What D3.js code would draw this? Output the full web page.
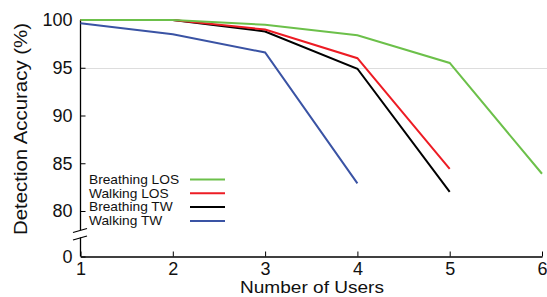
<!DOCTYPE html>
<html>
<head>
<meta charset="utf-8">
<script src="https://cdn.jsdelivr.net/npm/d3@7"></script>
<style>
  body { margin: 0; background: #fff; }
  text { font-family: "Liberation Sans", Arial, sans-serif; }
</style>
</head>
<body>
<div id="chart"></div>
<script>
// data
var users = [1, 2, 3, 4, 5, 6]
var breathingLOS = [100, 100, 99.5, 98.4, 95.5, 83.9]
var walkingLOS = [100, 100, 99.0, 96.0, 84.4]
var breathingTW = [100, 100, 98.8, 94.9, 82.0]
var walkingTW = [99.65, 98.5, 96.6, 82.9]
var yTicks = [0, 80, 85, 90, 95, 100]
var seriesNames = ['Breathing LOS', 'Walking LOS', 'Breathing TW', 'Walking TW']
var seriesValues = [breathingLOS, walkingLOS, breathingTW, walkingTW]
var seriesColors = ['#6cc04a', '#ed1c24', '#000000', '#3a53a4']

var width = 547
var height = 297
var margin = { top: 20, right: 5, bottom: 41, left: 80.5 }

var svg = d3.select('#chart').append('svg')
  .attr('width', width)
  .attr('height', height)

var x = d3.scaleLinear()
  .domain([1, 6])
  .range([margin.left, 542])

// broken axis: 0 sits just below the 80..100 part
var y = d3.scaleLinear()
  .domain([0, 80, 100])
  .range([256.5, 211, 20])

// 95% reference line
svg.append('line')
  .attr('x1', margin.left)
  .attr('x2', width)
  .attr('y1', Math.round(y(95)) + 0.5)
  .attr('y2', Math.round(y(95)) + 0.5)
  .attr('stroke', '#bbbbbb')
  .attr('stroke-width', 1)
  .attr('stroke-dasharray', '1,1')

var xAxis = svg.append('g')
  .attr('transform', 'translate(0,256.5)')
  .call(d3.axisBottom(x).tickValues(users).tickFormat(d3.format('d')).tickSize(-5).tickPadding(5.5).tickSizeOuter(0))
xAxis.select('.domain').attr('stroke-width', 1.3)
xAxis.selectAll('text').attr('font-size', 18).attr('fill', '#111')

var yAxis = svg.append('g')
  .attr('transform', 'translate(' + margin.left + ',0)')
  .call(d3.axisLeft(y).tickValues(yTicks).tickSize(-5).tickPadding(8).tickSizeOuter(0))
yAxis.select('.domain').remove()
yAxis.selectAll('text').attr('font-size', 18).attr('fill', '#111')

// axis line in two parts with break marks
var axisLine = svg.append('g').attr('stroke', '#000').attr('stroke-width', 1.3)
axisLine.append('line').attr('x1', margin.left).attr('x2', margin.left).attr('y1', 20).attr('y2', 230)
axisLine.append('line').attr('x1', margin.left).attr('x2', margin.left).attr('y1', 237.5).attr('y2', 256.5)
axisLine.append('line').attr('x1', 73).attr('x2', 87).attr('y1', 232.5).attr('y2', 228.5)
axisLine.append('line').attr('x1', 73).attr('x2', 87).attr('y1', 240).attr('y2', 236)

var line = d3.line()
  .x((d, i) => x(users[i]))
  .y(d => y(d))

svg.append('g')
  .selectAll('path')
  .data(seriesValues.slice().reverse())
  .enter()
  .append('path')
  .attr('d', d => line(d))
  .attr('fill', 'none')
  .attr('stroke', (d, i) => seriesColors.slice().reverse()[i])
  .attr('stroke-width', 2)

// legend
var legend = svg.append('g')
  .selectAll('g')
  .data(seriesNames)
  .enter()
  .append('g')
  .attr('transform', (d, i) => 'translate(0,' + (179.5 + i * 13.8) + ')')

legend.append('text')
  .attr('transform', 'translate(89,0) scale(1.1,1)')
  .attr('dy', '0.35em')
  .attr('font-size', 12.5)
  .attr('fill', '#111')
  .text(d => d)

legend.append('line')
  .attr('x1', 190)
  .attr('x2', 225)
  .attr('stroke', (d, i) => seriesColors[i])
  .attr('stroke-width', 2)

svg.append('text')
  .attr('x', 312)
  .attr('y', 293)
  .attr('text-anchor', 'middle')
  .attr('font-size', 17)
  .attr('textLength', 144)
  .attr('lengthAdjust', 'spacingAndGlyphs')
  .attr('fill', '#111')
  .text('Number of Users')

svg.append('text')
  .attr('transform', 'translate(26.5,129) rotate(-90)')
  .attr('text-anchor', 'middle')
  .attr('font-size', 17.5)
  .attr('textLength', 212)
  .attr('lengthAdjust', 'spacingAndGlyphs')
  .attr('fill', '#111')
  .text('Detection Accuracy (%)')
</script>
</body>
</html>
